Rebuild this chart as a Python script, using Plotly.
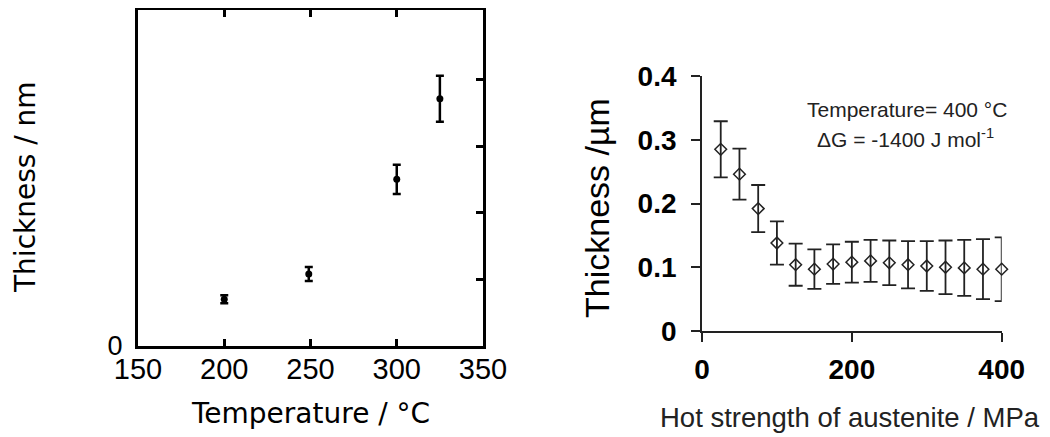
import plotly.graph_objects as go

# ---- Left panel data ----
temp_c = [200, 249, 300, 325]
thick_nm = [7.0, 10.8, 25.0, 37.1]
thick_nm_err = [0.6, 1.05, 2.2, 3.45]
left_xticks = [150, 200, 250, 300, 350]
left_yticks_right = [10, 20, 30, 40]

# ---- Right panel data ----
hot_strength = [25, 50, 75, 100, 125, 150, 175, 200, 225, 250, 275, 300, 325, 350, 375, 400]
thick_um = [0.285, 0.246, 0.192, 0.138, 0.104, 0.097, 0.105, 0.108, 0.110, 0.107,
            0.104, 0.102, 0.100, 0.099, 0.097, 0.097]
thick_um_err = [0.044, 0.040, 0.037, 0.034, 0.033, 0.031, 0.031, 0.032, 0.033, 0.035,
                0.037, 0.039, 0.042, 0.044, 0.047, 0.050]
right_xticks = [0, 200, 400]
right_yticks = [0, 0.1, 0.2, 0.3, 0.4]
right_yticktext = ["0", "0.1", "0.2", "0.3", "0.4"]

FONT = "Liberation Sans, Arial, sans-serif"
WIDE = "DejaVu Sans, Liberation Sans, sans-serif"

W, H = 1050, 437
OFF = 8  # page body margin offset


def PX(p):
    return (p - OFF) / W


def PY(p):
    return 1 - (p - OFF) / H


fig = go.Figure()

fig.add_trace(go.Scatter(
    x=temp_c, y=thick_nm, mode="markers",
    marker=dict(symbol="circle", size=7, color="black"),
    error_y=dict(type="data", array=thick_nm_err, visible=True,
                 color="black", thickness=2.5, width=4),
    xaxis="x", yaxis="y", showlegend=False, cliponaxis=False,
))

# empty helper trace so the right-hand tick axis of the left panel is drawn
fig.add_trace(go.Scatter(x=[], y=[], xaxis="x", yaxis="y3", showlegend=False))

fig.add_trace(go.Scatter(
    x=hot_strength, y=thick_um, mode="markers",
    marker=dict(symbol="diamond-open", size=9, color="#222",
                line=dict(width=1.5, color="#222")),
    error_y=dict(type="data", array=thick_um_err, visible=True,
                 color="#222", thickness=1.8, width=7),
    xaxis="x2", yaxis="y2", showlegend=False, cliponaxis=False,
))

fig.update_layout(
    template="none",
    width=W, height=H,
    margin=dict(l=0, r=0, t=0, b=0, autoexpand=False),
    paper_bgcolor="white", plot_bgcolor="white",
    font=dict(family=FONT, color="black"),
    xaxis=dict(
        domain=[PX(138), PX(483)], range=[150, 350], anchor="y", automargin=False,
        tickvals=left_xticks, ticks="inside", ticklen=7, tickwidth=2.5,
        tickcolor="black", showline=True, linewidth=3, linecolor="black",
        mirror="ticks", showgrid=False, zeroline=False,
        tickfont=dict(size=29, family=FONT), ticklabelstandoff=-5,
    ),
    yaxis=dict(
        domain=[PY(346), PY(10)], range=[0, 50.4], anchor="x", automargin=False,
        tickvals=[0], ticktext=["0"], ticks="", showline=True, linewidth=3,
        linecolor="black", mirror=True, showgrid=False, zeroline=False,
        tickfont=dict(size=27, family=FONT), ticklabelstandoff=7,
        ticklabelshift=0,
    ),
    yaxis3=dict(
        overlaying="y", anchor="x", side="right", range=[0, 50.4], automargin=False,
        tickvals=left_yticks_right, ticks="inside", ticklen=7, tickwidth=2.5,
        tickcolor="black", showticklabels=False, showline=False,
        showgrid=False, zeroline=False,
    ),
    xaxis2=dict(
        domain=[PX(702), PX(1001.7)], range=[0, 400], anchor="y2", automargin=False,
        tickvals=right_xticks, ticks="outside", ticklen=9, tickwidth=1.8,
        tickcolor="#222", showline=True, linewidth=1.8, linecolor="#222",
        showgrid=False, zeroline=False,
        tickfont=dict(size=28, family=FONT, weight="bold"), ticklabelstandoff=3,
    ),
    yaxis2=dict(
        domain=[PY(331), PY(76)], range=[0, 0.4], anchor="x2", automargin=False,
        tickvals=right_yticks, ticktext=right_yticktext, ticks="outside",
        ticklen=9, tickwidth=1.8, tickcolor="#222", showline=True,
        linewidth=1.8, linecolor="#222", showgrid=False, zeroline=False,
        tickfont=dict(size=28, family=FONT, weight="bold"), ticklabelstandoff=9,
    ),
    annotations=[
        dict(text="Temperature / °C", x=PX(310), y=PY(413),
             xref="paper", yref="paper", xanchor="center", yanchor="middle",
             showarrow=False, font=dict(size=28, family=WIDE)),
        dict(text="Thickness / nm", x=PX(25), y=PY(187),
             xref="paper", yref="paper", xanchor="center", yanchor="middle",
             textangle=-90, showarrow=False, font=dict(size=28, family=WIDE)),
        dict(text="Thickness /µm", x=PX(597), y=PY(208),
             xref="paper", yref="paper", xanchor="center", yanchor="middle",
             textangle=-90, showarrow=False, font=dict(size=34, family=FONT)),
        dict(text="Hot strength of austenite / MPa", x=PX(658), y=PY(417),
             xref="paper", yref="paper", xanchor="left", yanchor="middle",
             showarrow=False, font=dict(size=27.5, family=FONT, color="#222")),
        dict(text="Temperature= 400 °C", x=PX(907), y=PY(109),
             xref="paper", yref="paper", xanchor="center", yanchor="middle",
             showarrow=False, font=dict(size=21, family=FONT, color="#222")),
        dict(text="ΔG = -1400 J mol<sup>-1</sup>", x=PX(905), y=PY(138),
             xref="paper", yref="paper", xanchor="center", yanchor="middle",
             showarrow=False, font=dict(size=21, family=FONT, color="#222")),
    ],
)

fig.write_html("out.html")
